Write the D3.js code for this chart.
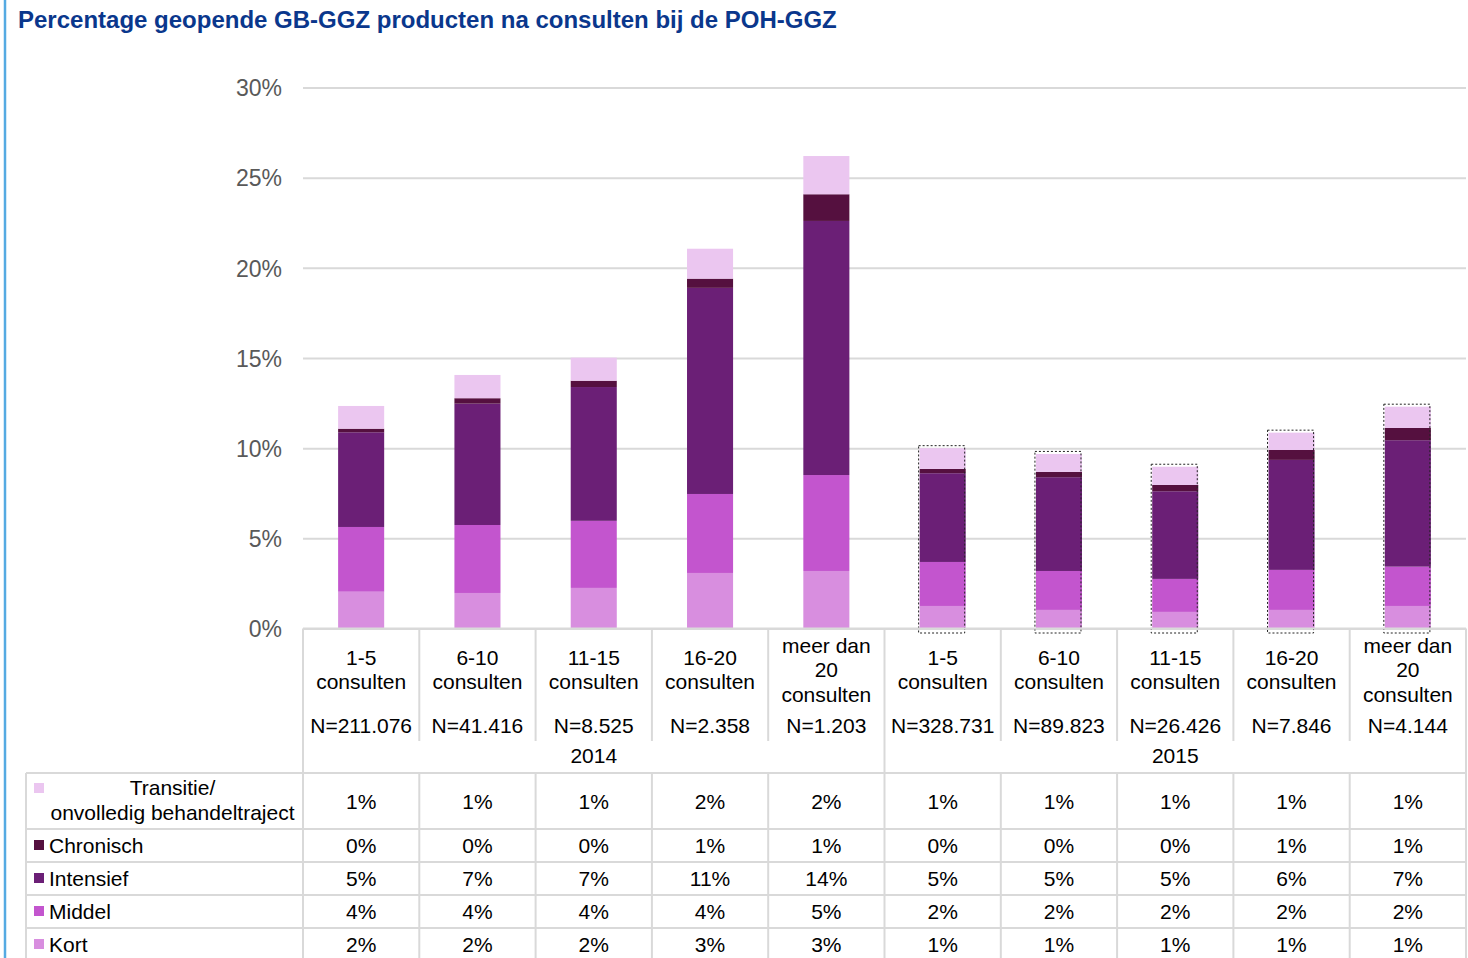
<!DOCTYPE html>
<html>
<head>
<meta charset="utf-8">
<script src="https://d3js.org/d3.v7.min.js"></script>
<style>
    body { margin: 0; background: #fff; }
    text { font-family: "Liberation Sans", Arial, sans-serif; }
</style>
</head>
<body>
<script>
// category labels (one entry per line)
var categories = [
    ["1-5", "consulten"], ["6-10", "consulten"], ["11-15", "consulten"], ["16-20", "consulten"], ["meer dan", "20", "consulten"],
    ["1-5", "consulten"], ["6-10", "consulten"], ["11-15", "consulten"], ["16-20", "consulten"], ["meer dan", "20", "consulten"]
];
var sampleSizes = ["N=211.076", "N=41.416", "N=8.525", "N=2.358", "N=1.203",
                   "N=328.731", "N=89.823", "N=26.426", "N=7.846", "N=4.144"];
var years = ["2014", "2015"];

// series values in percent
var transitie = [1.26, 1.29, 1.28, 1.66, 2.12, 1.15, 1.00, 1.01, 0.96, 1.18];
var chronisch = [0.20, 0.30, 0.35, 0.51, 1.48, 0.24, 0.29, 0.35, 0.55, 0.68];
var intensief = [5.25, 6.73, 7.42, 11.43, 14.09, 4.92, 5.20, 4.86, 6.10, 7.01];
var middel    = [3.59, 3.77, 3.72, 4.38, 5.32, 2.44, 2.16, 1.83, 2.22, 2.18];
var kort      = [2.04, 1.97, 2.25, 3.08, 3.19, 1.25, 1.03, 0.92, 1.03, 1.25];

var seriesNames = ["Transitie/ onvolledig behandeltraject", "Chronisch", "Intensief", "Middel", "Kort"];
var seriesColors = ["#ebc6f0", "#55103f", "#6b1f76", "#c355ce", "#d88edf"];
var yTicks = [0, 5, 10, 15, 20, 25, 30];

window.onload = function() {
    var w = 1468, h = 958;
    var left = 303, right = 1466, top = 87.5, base = 628.5;

    var svg = d3.select("body").append("svg")
        .attr("width", w)
        .attr("height", h);

    // blue line at left edge
    svg.append("line")
        .attr("x1", 5).attr("x2", 5)
        .attr("y1", 0).attr("y2", h)
        .style("stroke", "#55aae2")
        .style("stroke-width", 2.5);

    svg.append("text")
        .attr("x", 18)
        .attr("y", 28)
        .style("font-size", "24px")
        .style("font-weight", "bold")
        .style("fill", "#0a378c")
        .text("Percentage geopende GB-GGZ producten na consulten bij de POH-GGZ");

    var yScale = d3.scaleLinear()
        .domain([0, 30])
        .range([base, top]);

    var idx = d3.range(categories.length);

    // one column per category (table cells)
    var colScale = d3.scaleBand()
        .domain(idx)
        .range([left, right]);

    // bars sit in the middle of each column
    var xScale = d3.scaleBand()
        .domain(idx)
        .range([left, right])
        .paddingInner(0.604)
        .paddingOuter(0.302);

    // gridlines + tick labels
    var yAxis = d3.axisLeft(yScale)
        .tickValues(yTicks)
        .tickSize(-(right - left))
        .tickPadding(21)
        .tickFormat(function(d) { return d + "%"; });

    var axis = svg.append("g")
        .attr("class", "axis")
        .attr("transform", "translate(" + left + ",0)")
        .call(yAxis);
    axis.select(".domain").remove();
    axis.selectAll("line").style("stroke", "#d9d9d9").style("stroke-width", 2);
    axis.selectAll("text")
        .style("font-size", "23px")
        .style("fill", "#595959")
        .attr("dy", "0.36em");

    // stack the series: Kort at the bottom, Transitie on top
    var rows = idx.map(function(i) {
        return { i: i, transitie: transitie[i], chronisch: chronisch[i], intensief: intensief[i], middel: middel[i], kort: kort[i] };
    });
    var keys = ["kort", "middel", "intensief", "chronisch", "transitie"];
    var keyColor = {
        transitie: seriesColors[0], chronisch: seriesColors[1], intensief: seriesColors[2],
        middel: seriesColors[3], kort: seriesColors[4]
    };
    var stacked = d3.stack().keys(keys)(rows);

    svg.selectAll(".layer")
        .data(stacked)
        .enter()
        .append("g")
        .attr("class", "layer")
        .style("fill", function(d) { return keyColor[d.key]; })
        .selectAll("rect")
        .data(function(d) { return d; })
        .enter()
        .append("rect")
        .attr("x", function(d) { return xScale(d.data.i); })
        .attr("width", xScale.bandwidth())
        .attr("y", function(d) { return yScale(d[1]); })
        .attr("height", function(d) { return yScale(d[0]) - yScale(d[1]); });

    // dotted frames round the 2015 bars
    var totals = stacked[stacked.length - 1];
    svg.selectAll(".frame")
        .data(totals.filter(function(d) { return Math.floor(d.data.i / 5) == 1; }))
        .enter()
        .append("rect")
        .attr("class", "frame")
        .attr("x", function(d) { return xScale(d.data.i) - 1; })
        .attr("width", xScale.bandwidth())
        .attr("y", function(d) { return yScale(d[1]) - 2.5; })
        .attr("height", function(d) { return base - yScale(d[1]) + 7; })
        .style("fill", "none")
        .style("stroke", "#222")
        .style("stroke-width", 1)
        .style("stroke-dasharray", "2,2");

    // ---- data table ----
    var gridColor = "#d9d9d9";
    var rowTops = [773, 829, 862, 895, 928, 961];
    var tableLeft = 26;

    function line(x1, y1, x2, y2) {
        svg.append("line")
            .attr("x1", x1).attr("y1", y1).attr("x2", x2).attr("y2", y2)
            .style("stroke", gridColor)
            .style("stroke-width", 2);
    }

    line(left, base, right, base);
    idx.concat([categories.length]).forEach(function(k) {
        var x = k < categories.length ? colScale(k) : right;
        var full = (k % 5 == 0);
        line(x, base, x, full ? h : 741);
        if (!full) line(x, rowTops[0], x, h);
    });
    rowTops.slice(0, 5).forEach(function(y) { line(tableLeft, y, right, y); });
    line(tableLeft, rowTops[0], tableLeft, h);

    // category labels
    var catLabels = svg.selectAll(".cat")
        .data(categories)
        .enter()
        .append("text")
        .attr("class", "cat")
        .attr("text-anchor", "middle")
        .style("font-size", "21px")
        .style("fill", "#000");
    catLabels.selectAll("tspan")
        .data(function(d, i) {
            return d.map(function(t, j) { return { t: t, j: j, n: d.length, i: i }; });
        })
        .enter()
        .append("tspan")
        .attr("x", function(d) { return colScale(d.i) + colScale.bandwidth() / 2; })
        .attr("y", function(d) { return 677 + (d.j - (d.n - 1) / 2) * 24.5; })
        .text(function(d) { return d.t; });

    svg.selectAll(".nlab")
        .data(sampleSizes)
        .enter()
        .append("text")
        .attr("class", "nlab")
        .attr("text-anchor", "middle")
        .attr("x", function(d, i) { return colScale(i) + colScale.bandwidth() / 2; })
        .attr("y", 733)
        .style("font-size", "21px")
        .text(function(d) { return d; });

    svg.selectAll(".year")
        .data(years)
        .enter()
        .append("text")
        .attr("class", "year")
        .attr("text-anchor", "middle")
        .attr("x", function(d, i) { return (colScale(i * 5) + colScale(i * 5 + 4) + colScale.bandwidth()) / 2; })
        .attr("y", 763)
        .style("font-size", "21px")
        .text(function(d) { return d; });

    // table rows: legend key + rounded values
    var tableSeries = [transitie, chronisch, intensief, middel, kort];
    tableSeries.forEach(function(vals, r) {
        var yTop = rowTops[r], yBot = rowTops[r + 1];
        var mid = (yTop + yBot) / 2;

        svg.append("rect")
            .attr("x", 34)
            .attr("y", r == 0 ? 783 : mid - 5.5)
            .attr("width", 10)
            .attr("height", 10)
            .style("fill", seriesColors[r]);

        if (r == 0) {
            var parts = seriesNames[0].split(" ");
            svg.append("text")
                .attr("text-anchor", "middle")
                .attr("x", 172.5).attr("y", 795)
                .style("font-size", "21px")
                .text(parts[0]);
            svg.append("text")
                .attr("text-anchor", "middle")
                .attr("x", 172.5).attr("y", 820)
                .style("font-size", "21px")
                .text(parts.slice(1).join(" "));
        } else {
            svg.append("text")
                .attr("x", 49)
                .attr("y", mid + 7.5)
                .style("font-size", "21px")
                .text(seriesNames[r]);
        }

        svg.selectAll(".val" + r)
            .data(vals)
            .enter()
            .append("text")
            .attr("class", "val" + r)
            .attr("text-anchor", "middle")
            .attr("x", function(d, i) { return colScale(i) + colScale.bandwidth() / 2; })
            .attr("y", mid + 7.5)
            .style("font-size", "21px")
            .text(function(d) { return Math.round(d) + "%"; });
    });
};
</script>
</body>
</html>
